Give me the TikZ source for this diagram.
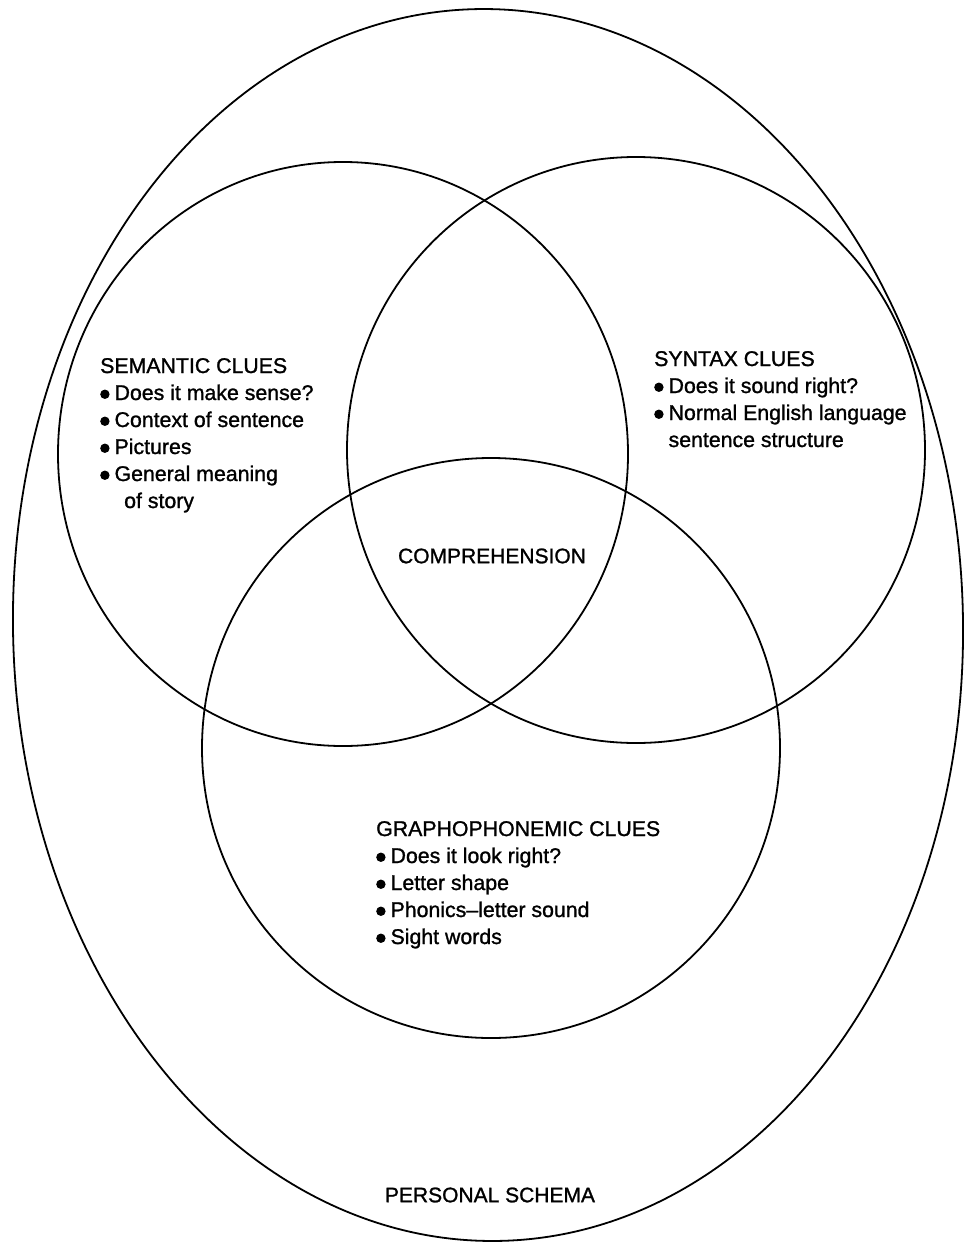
\documentclass[tikz,border=0pt]{standalone}
\usepackage{fontspec}
\setmainfont{Liberation Sans}
\newfontfamily\cluefont{Liberation Sans}[Ligatures=TeX, FakeBold=1.2]
\newcommand{\bul}{\tikz[baseline=-0.27em]\fill (0,0) circle (4.7pt);\hspace{5pt}}

\begin{document}
\begin{tikzpicture}[x=1pt, y=-1pt, line width=1.8pt,
    clues/.style={anchor=base west, align=left, inner sep=0pt, font=\cluefont\fontsize{21.3}{27}\selectfont},
    title/.style={inner sep=0pt, font=\cluefont\fontsize{21}{27}\selectfont}]
    \useasboundingbox (0,0) rectangle (964,1247);

    \draw[rotate around={1:(488,625)}] (488,625) ellipse [x radius=475, y radius=616];
    \draw (343,454) ellipse [x radius=285, y radius=292];
    \draw (636,450) ellipse [x radius=289, y radius=293];
    \draw (491,748) ellipse [x radius=289, y radius=290];

    \node[clues] (semantic) at (100,508) {SEMANTIC CLUES\\\bul Does it make sense?\\\bul Context of sentence\\\bul Pictures\\\bul General meaning\\\hspace{24pt}of story};
    \node[clues] (syntax) at (654,447) {SYNTAX CLUES\\\bul Does it sound right?\\\bul Normal English language\\\hspace{14.4pt}sentence structure};
    \node[title] (compr) at (492,556) {COMPREHENSION};
    \node[clues] (grapho) at (376,944) {GRAPHOPHONEMIC CLUES\\\bul Does it look right?\\\bul Letter shape\\\bul Phonics--letter sound\\\bul Sight words};
    \node[title] (schema) at (490,1195) {PERSONAL SCHEMA};
\end{tikzpicture}
\end{document}
